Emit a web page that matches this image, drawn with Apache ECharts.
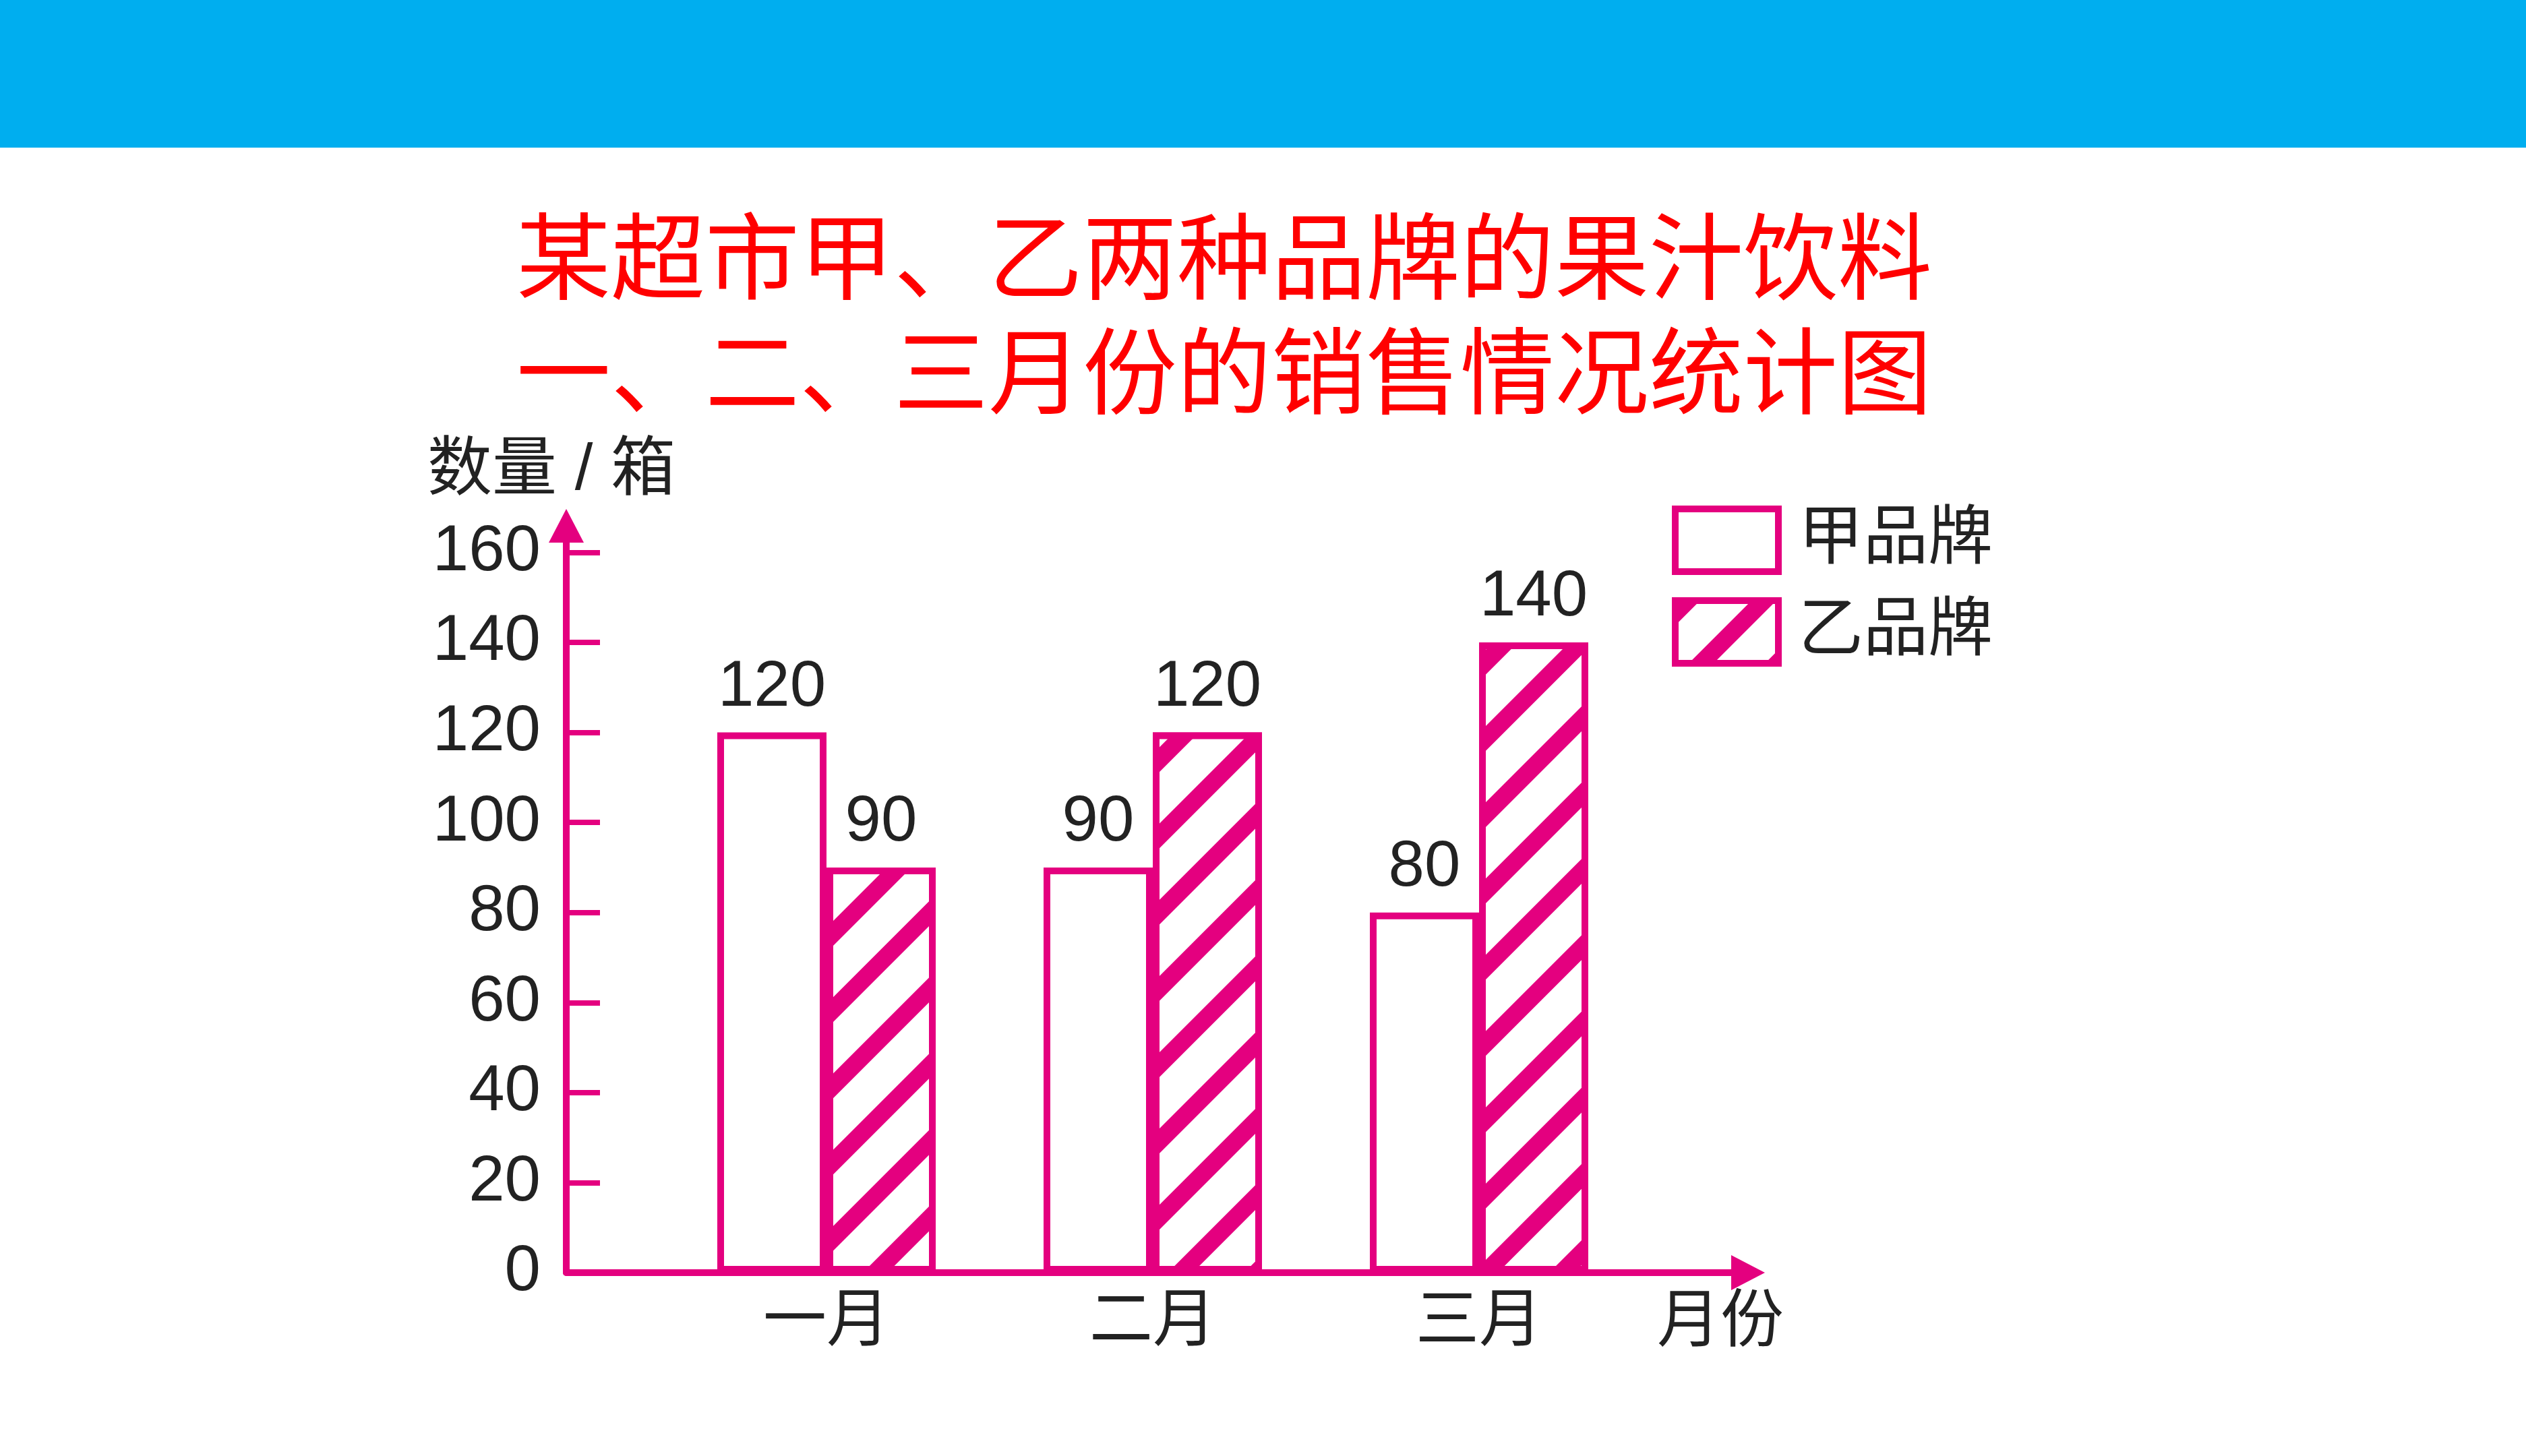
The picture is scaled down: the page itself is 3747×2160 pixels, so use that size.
<!DOCTYPE html>
<html>
<head>
<meta charset="utf-8">
<title>某超市甲、乙两种品牌的果汁饮料销售情况统计图</title>
<script src="https://cdn.jsdelivr.net/npm/echarts@6/dist/echarts.min.js"></script>
<style>
  html, body { margin: 0; padding: 0; background: #fff; }
  #chart { width: 3747px; height: 2160px; }
</style>
</head>
<body>
<div id="chart"></div>
<script>
  // 数据
  const months = ['一月', '二月', '三月'];
  const brandNames = ['甲品牌', '乙品牌'];
  const brandA = [120, 90, 80];
  const brandB = [90, 120, 140];
  const yTicks = [0, 20, 40, 60, 80, 100, 120, 140, 160];
  const titleLines = ['某超市甲、乙两种品牌的果汁饮料', '一、二、三月份的销售情况统计图'];

  const MAGENTA = '#e4007f';
  const TEXT = '#222';
  const FONT = '"Liberation Sans", Arial, "Noto Sans CJK SC", sans-serif';
  // y 轴顶端(箭头处)对应的数值
  const yMax = 165.9;

  const chart = echarts.init(document.getElementById('chart'));

  const labelStyle = {
    show: true,
    position: 'top',
    distance: 18,
    fontSize: 96,
    fontFamily: FONT,
    color: TEXT
  };

  chart.setOption({
    animation: false,
    backgroundColor: '#fff',
    textStyle: { fontFamily: FONT },
    graphic: [
      {
        type: 'rect',
        shape: { x: 0, y: 0, width: 3747, height: 219 },
        style: { fill: '#00aeef' }
      },
      {
        type: 'text',
        x: 1816, y: 380,
        style: {
          text: titleLines[0], fill: '#ff0000', fontSize: 140,
          fontFamily: '"Noto Sans CJK SC", sans-serif',
          align: 'center', verticalAlign: 'middle'
        }
      },
      {
        type: 'text',
        x: 1816, y: 550,
        style: {
          text: titleLines[1], fill: '#ff0000', fontSize: 140,
          fontFamily: '"Noto Sans CJK SC", sans-serif',
          align: 'center', verticalAlign: 'middle'
        }
      }
    ],
    legend: {
      data: brandNames,
      orient: 'vertical',
      left: 2480,
      top: 750,
      padding: 0,
      icon: 'rect',
      itemWidth: 153,
      itemHeight: 93,
      itemGap: 33,
      itemStyle: { borderWidth: 10, borderColor: MAGENTA },
      textStyle: { fontSize: 96, color: TEXT, fontFamily: FONT, padding: [0, 0, 0, 25] }
    },
    grid: [
      // 柱子所在网格
      { left: 984, top: 780, width: 1452, height: 1108 },
      // 坐标轴框架
      { left: 840, top: 780, width: 1753, height: 1108 }
    ],
    xAxis: [
      {
        gridIndex: 0,
        type: 'category',
        data: months,
        axisLine: { show: false },
        axisTick: { show: false },
        axisLabel: { fontSize: 94, color: TEXT, margin: 28, fontFamily: FONT }
      },
      {
        gridIndex: 1,
        type: 'value',
        min: 0,
        max: 1,
        axisLine: {
          onZero: false,
          symbol: ['none', 'triangle'],
          symbolSize: [52, 50],
          lineStyle: { color: MAGENTA, width: 10 }
        },
        axisTick: { show: false },
        axisLabel: { show: false },
        splitLine: { show: false },
        name: '月份',
        nameLocation: 'end',
        nameGap: 0,
        nameTextStyle: {
          fontSize: 94, color: TEXT, fontFamily: FONT,
          align: 'center', verticalAlign: 'top',
          padding: [29, 82, 0, 0]
        }
      }
    ],
    yAxis: [
      {
        gridIndex: 0,
        type: 'value',
        min: 0,
        max: yMax,
        show: false
      },
      {
        gridIndex: 1,
        type: 'value',
        min: 0,
        max: yMax,
        axisLine: {
          show: true,
          onZero: false,
          symbol: ['none', 'triangle'],
          symbolSize: [52, 50],
          lineStyle: { color: MAGENTA, width: 10 }
        },
        axisTick: {
          show: true,
          inside: true,
          length: 50,
          customValues: yTicks,
          lineStyle: { color: MAGENTA, width: 8 }
        },
        axisLabel: {
          customValues: yTicks,
          fontSize: 96,
          color: TEXT,
          margin: 38,
          fontFamily: FONT
        },
        splitLine: { show: false },
        name: '数量 / 箱',
        nameLocation: 'end',
        nameGap: 32,
        nameTextStyle: {
          fontSize: 96, color: TEXT, fontFamily: FONT,
          padding: [0, 44, 0, 0]
        }
      }
    ],
    series: [
      {
        name: brandNames[0],
        type: 'bar',
        xAxisIndex: 0,
        yAxisIndex: 0,
        barWidth: 162,
        barGap: '0%',
        itemStyle: { color: '#fff', borderColor: MAGENTA, borderWidth: 10 },
        label: labelStyle,
        data: brandA
      },
      {
        name: brandNames[1],
        type: 'bar',
        xAxisIndex: 0,
        yAxisIndex: 0,
        barWidth: 162,
        barGap: '0%',
        itemStyle: {
          color: '#fff',
          borderColor: MAGENTA,
          borderWidth: 10,
          decal: {
            symbol: 'rect',
            symbolSize: 1,
            dashArrayX: [1, 0],
            dashArrayY: [26, 54],
            rotation: -Math.PI / 4,
            color: MAGENTA,
            backgroundColor: '#fff'
          }
        },
        label: labelStyle,
        data: brandB
      }
    ]
  });
</script>
</body>
</html>
